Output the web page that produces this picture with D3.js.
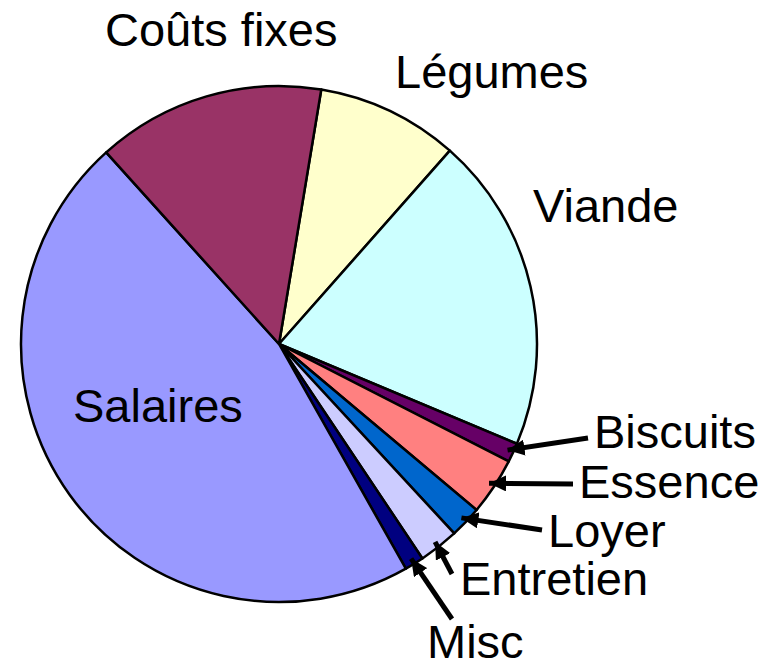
<!DOCTYPE html>
<html>
<head>
<meta charset="utf-8">
<script src="https://cdn.jsdelivr.net/npm/d3@7"></script>
<style>
  body { margin: 0; background: #fff; }
  text { font-family: 'Liberation Sans', Arial, sans-serif; }
</style>
</head>
<body>
<svg id="chart"></svg>
<script>
// slices, clockwise from the first one
var labels = ['Légumes', 'Viande', 'Biscuits', 'Essence', 'Loyer', 'Entretien', 'Misc', 'Salaires', 'Coûts fixes']
var values = [8.9, 19.8, 1.2, 3.6, 2.0, 2.5, 1.2, 46.5, 14.3]
var colors = ['#FFFFCC', '#CCFFFF', '#660066', '#FF8080', '#0066CC', '#CCCCFF', '#000080', '#9999FF', '#993366']

var width = 775, height = 669
var cx = 279, cy = 344, radius = 258
var firstAngle = 9.43 * Math.PI / 180

// where each label sits (text start, baseline) and the tail of its arrow
var labelPos = {
    'Légumes': {x: 395, y: 88},
    'Viande': {x: 533, y: 222},
    'Biscuits': {x: 594, y: 448, tail: [588, 438]},
    'Essence': {x: 579, y: 498, tail: [573, 484]},
    'Loyer': {x: 548, y: 547, tail: [542, 530]},
    'Entretien': {x: 460, y: 595, tail: [452, 574]},
    'Misc': {x: 427, y: 658, tail: [452, 619]},
    'Salaires': {x: 73, y: 422},
    'Coûts fixes': {x: 105, y: 46}
}

var svg = d3.select('#chart').attr('width', width).attr('height', height)

svg.append('rect').attr('width', width).attr('height', height).attr('fill', '#fff')

svg.append('defs').append('marker')
    .attr('id', 'head')
    .attr('markerUnits', 'userSpaceOnUse')
    .attr('viewBox', '0 0 17 16')
    .attr('markerWidth', 17)
    .attr('markerHeight', 16)
    .attr('refX', 17)
    .attr('refY', 8)
    .attr('orient', 'auto')
    .append('path')
    .attr('d', 'M0,0 L17,8 L0,16 Z')
    .attr('fill', '#000')

var pie = d3.pie().sort(null).value(function(d) { return d })
    .startAngle(firstAngle).endAngle(firstAngle + 2 * Math.PI)
var arcs = pie(values)

var arc = d3.arc().innerRadius(0).outerRadius(radius)

var g = svg.append('g').attr('transform', 'translate(' + cx + ',' + cy + ')')

g.selectAll('path')
    .data(arcs)
    .enter().append('path')
    .attr('d', arc)
    .attr('fill', function(d, i) { return colors[i] })
    .attr('stroke', '#000')
    .attr('stroke-width', 2.5)
    .attr('stroke-linejoin', 'round')

// arrows for the thin slices
arcs.forEach(function(d, i) {
    var p = labelPos[labels[i]]
    if (!p.tail) return
    var mid = (d.startAngle + d.endAngle) / 2
    var r = radius - 6
    var tx = cx + r * Math.sin(mid), ty = cy - r * Math.cos(mid)
    svg.append('line')
        .attr('x1', p.tail[0]).attr('y1', p.tail[1])
        .attr('x2', tx).attr('y2', ty)
        .attr('stroke', '#000')
        .attr('stroke-width', 5)
        .attr('marker-end', 'url(#head)')
})

svg.selectAll('text.label')
    .data(labels)
    .enter().append('text')
    .attr('class', 'label')
    .attr('x', function(d) { return labelPos[d].x })
    .attr('y', function(d) { return labelPos[d].y })
    .attr('font-size', '47px')
    .attr('fill', '#000')
    .text(function(d) { return d })
</script>
</body>
</html>
